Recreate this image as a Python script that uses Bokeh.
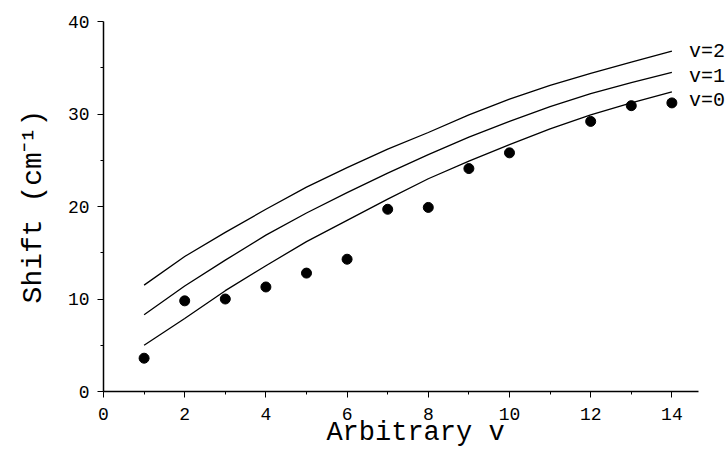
from bokeh.plotting import figure
from bokeh.models import Range1d, FixedTicker, ColumnDataSource
from bokeh.core.properties import value
from bokeh.embed import file_html
from bokeh.resources import INLINE

# ---- data ----
curve_x = [1, 2, 3, 4, 5, 6, 7, 8, 9, 10, 11, 12, 13, 14]
curve_v0 = [5.0, 7.9, 10.9, 13.6, 16.2, 18.5, 20.8, 23.0, 24.9, 26.7, 28.4, 29.9, 31.2, 32.4]
curve_v1 = [8.3, 11.4, 14.2, 16.9, 19.3, 21.5, 23.6, 25.6, 27.5, 29.2, 30.8, 32.2, 33.4, 34.5]
curve_v2 = [11.5, 14.6, 17.2, 19.7, 22.1, 24.2, 26.2, 28.0, 29.9, 31.6, 33.1, 34.4, 35.6, 36.8]

obs_x = [1, 2, 3, 4, 5, 6, 7, 8, 9, 10, 12, 13, 14]
obs_y = [3.6, 9.8, 10.0, 11.3, 12.8, 14.3, 19.7, 19.9, 24.1, 25.8, 29.2, 30.9, 31.2]

label_text = ["v=2", "v=1", "v=0"]
label_x = [14.42, 14.42, 14.42]
label_y = [36.8, 34.1, 31.5]

x_ticks = [0, 2, 4, 6, 8, 10, 12, 14]
x_minor = [1, 3, 5, 7, 9, 11, 13]
y_ticks = [0, 10, 20, 30, 40]
y_minor = [5, 15, 25, 35]

FONT = "Liberation Mono"

p = figure(width=727, height=456, output_backend="svg", toolbar_location=None,
           x_range=Range1d(0, 15.37), y_range=Range1d(0, 40),
           min_border_left=103, min_border_right=0, min_border_top=21, min_border_bottom=65)
p.outline_line_color = None
p.xgrid.visible = False
p.ygrid.visible = False

for ys in (curve_v2, curve_v1, curve_v0):
    p.line(curve_x, ys, line_color="black", line_width=1.3)

p.scatter(obs_x, obs_y, size=10, color="black")

src = ColumnDataSource(dict(x=label_x, y=label_y, t=label_text))
p.text(x="x", y="y", text="t", source=src, text_font=value(FONT),
       text_font_size="20px", text_baseline="middle", text_align="left", text_color="black")

for ax in (p.xaxis[0], p.yaxis[0]):
    ax.axis_line_color = "black"
    ax.axis_line_width = 1.5
    ax.major_tick_line_color = "black"
    ax.minor_tick_line_color = "black"
    ax.major_tick_out = 6
    ax.major_tick_in = 0
    ax.minor_tick_out = 3
    ax.minor_tick_in = 0
    ax.major_label_text_font = FONT
    ax.major_label_text_font_size = "18px"
    ax.major_label_text_color = "black"
    ax.axis_label_text_font = FONT
    ax.axis_label_text_font_size = "27px"
    ax.axis_label_text_font_style = "normal"
    ax.axis_label_text_color = "black"

p.xaxis[0].ticker = FixedTicker(ticks=x_ticks, minor_ticks=x_minor)
p.yaxis[0].ticker = FixedTicker(ticks=y_ticks, minor_ticks=y_minor)
p.xaxis[0].bounds = (0, 14.65)
p.xaxis[0].axis_label = "Arbitrary v"
p.yaxis[0].axis_label = "Shift (cm\u207b\u00b9)"
p.yaxis[0].axis_label_text_font_size = "28px"
p.xaxis[0].major_label_standoff = 10
p.yaxis[0].major_label_standoff = 8
p.xaxis[0].axis_label_standoff = -5
p.yaxis[0].axis_label_standoff = 16

open("out.html", "w").write(file_html(p, INLINE))
